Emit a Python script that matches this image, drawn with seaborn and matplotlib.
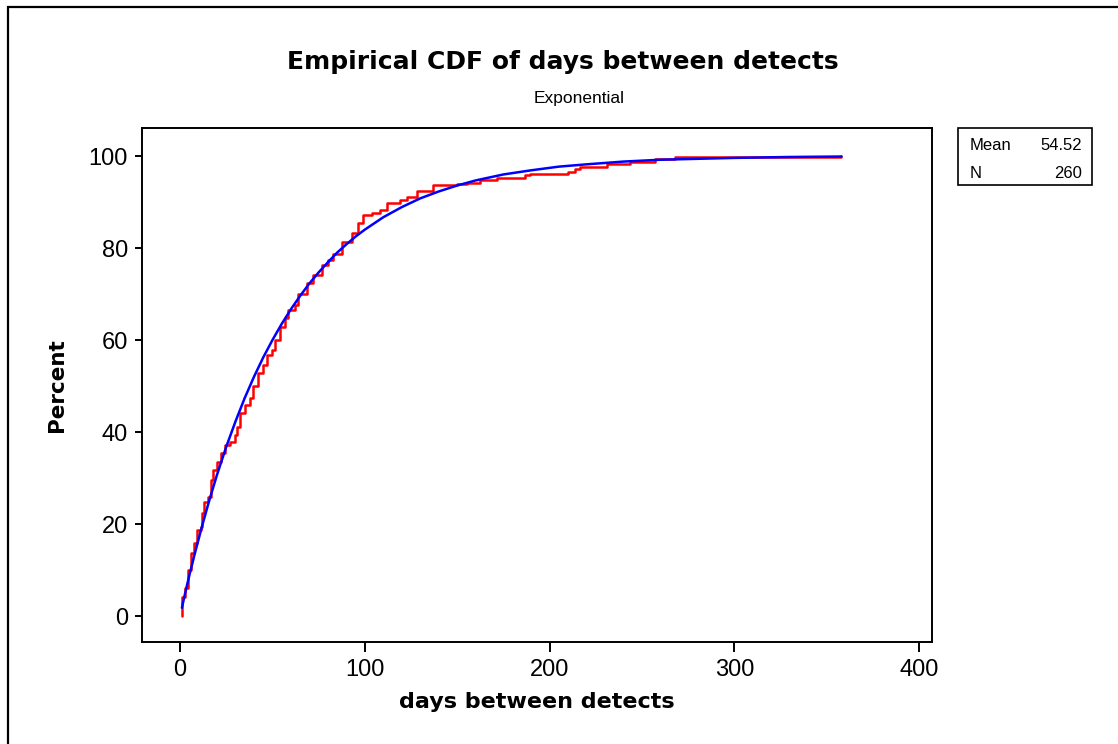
import matplotlib
matplotlib.use("Agg")
import matplotlib.pyplot as plt
from matplotlib.patches import Rectangle
import pandas as pd
import seaborn as sns

# ---- data ----
ecdf_days = [1, 1, 2.7, 4.5, 5.8, 7.6, 9, 11.2, 12.1, 13.2, 15.3, 16.6, 18, 19.8, 22,
             24.4, 27, 29.8, 31, 32.5, 35.2, 37.9, 39.7, 42.4, 45.1, 46.9, 49.6, 51.4,
             54.1, 56.8, 58.6, 62.2, 64, 68.6, 72.2, 76.7, 80, 83, 87.5, 92.9, 96.5,
             99.2, 103.8, 108.3, 111.9, 119.1, 122.7, 128.1, 137.1, 149.8, 155.2, 162.4,
             171.4, 186.7, 189.4, 210.2, 213.8, 216.5, 230.9, 243.6, 257.1, 267.9, 358]
ecdf_pct = [0, 4.2, 6, 10, 13.7, 15.9, 18.7, 19.4, 22.4, 24.8, 25.9, 29.6, 31.7, 33.5, 35.4,
            37.2, 37.9, 39.3, 41.2, 44.1, 45.9, 47.3, 49.9, 52.8, 54.6, 56.7, 57.8, 60,
            62.9, 64.7, 66.5, 67.6, 70.1, 72.3, 74.1, 76.3, 77.3, 78.8, 81.4, 83.2, 85.4,
            87.2, 87.7, 88.3, 89.7, 90.4, 91.2, 92.3, 93.7, 93.9, 94.2, 94.8,
            95.3, 95.9, 96.2, 96.6, 97.1, 97.7, 98.3, 98.8, 99.3, 99.8, 100]

fit_days = [1, 3, 5, 8, 12, 16, 20, 25, 30, 35, 40, 45, 50, 55, 60, 65, 70, 75, 80, 85,
            90, 95, 100, 110, 120, 130, 140, 150, 160, 175, 190, 205, 220, 240, 260,
            280, 300, 330, 358]
fit_pct = [1.8, 5.4, 8.8, 13.6, 19.7, 25.4, 30.7, 36.8, 42.3, 47.4, 52.0, 56.2, 60.0,
           63.5, 66.7, 69.6, 72.3, 74.7, 76.9, 79.0, 80.8, 82.5, 84.0, 86.7, 88.9, 90.8,
           92.3, 93.6, 94.7, 96.0, 96.9, 97.7, 98.2, 98.8, 99.2, 99.4, 99.6, 99.8, 99.9]

x_ticks = [0, 100, 200, 300, 400]
y_ticks = [0, 20, 40, 60, 80, 100]
stat_names = ["Mean", "N"]
stat_values = ["54.52", "260"]

title = "Empirical CDF of days between detects"
subtitle = "Exponential"
x_label = "days between detects"
y_label = "Percent"

# ---- drawing ----
sns.set_theme(style="white")
plt.rcParams["font.family"] = ["Liberation Sans", "DejaVu Sans"]
plt.rcParams["text.color"] = "black"
plt.rcParams["axes.labelcolor"] = "black"
plt.rcParams["xtick.color"] = "black"
plt.rcParams["ytick.color"] = "black"

W, H = 1118, 744
fig = plt.figure(figsize=(W / 100, H / 100), dpi=100, facecolor="white")
ax = fig.add_axes([142 / W, 1 - 642 / H, (932 - 142) / W, (642 - 128) / H])

ecdf_df = pd.DataFrame({"days": ecdf_days, "pct": ecdf_pct})
fit_df = pd.DataFrame({"days": fit_days, "pct": fit_pct})

sns.lineplot(data=ecdf_df, x="days", y="pct", ax=ax, color="#ff0000", linewidth=1.8,
             estimator=None, sort=False, drawstyle="steps-post")
sns.lineplot(data=fit_df, x="days", y="pct", ax=ax, color="#0000ff", linewidth=1.8,
             estimator=None, sort=False)

ax.set_xlim(-20.6, 407)
ax.set_ylim(-5.65, 106.1)
ax.set_xticks(x_ticks)
ax.set_yticks(y_ticks)
ax.set_xticklabels([str(t) for t in x_ticks], fontsize=17)
ax.set_yticklabels([str(t) for t in y_ticks], fontsize=17)
ax.tick_params(axis="x", direction="out", length=7, width=1.4, colors="black", pad=5,
               bottom=True)
ax.tick_params(axis="y", direction="out", length=5, width=1.4, colors="black", pad=5,
               left=True)
for s in ax.spines.values():
    s.set_color("black")
    s.set_linewidth(1.4)
ax.grid(False)

ax.set_xlabel(x_label, fontsize=16, fontweight="bold", family="DejaVu Sans", color="black")
ax.set_ylabel(y_label, fontsize=15.5, fontweight="bold", family="DejaVu Sans", color="black")
ax.xaxis.set_label_coords(0.5, -(692 - 642) / 514)
ax.yaxis.set_label_coords((67 - 142) / 790, 0.5)

fig.text(563 / W, 1 - 69 / H, title, ha="center", va="baseline", fontsize=18,
         fontweight="bold", family="DejaVu Sans", color="black")
fig.text(579 / W, 1 - 103 / H, subtitle, ha="center", va="baseline", fontsize=12.5,
         color="black")

# stats box
fig.patches.append(Rectangle((958 / W, 1 - 185 / H), (1092 - 958) / W, (185 - 128) / H,
                             transform=fig.transFigure, fill=False, edgecolor="black",
                             linewidth=1.2))
for i, (n, v) in enumerate(zip(stat_names, stat_values)):
    yc = 1 - (146 + 27 * i) / H
    fig.text(970 / W, yc, n, ha="left", va="center", fontsize=12, color="black")
    fig.text(1082 / W, yc, v, ha="right", va="center", fontsize=12, color="black")

# outer frame
fig.patches.append(Rectangle((8 / W, -0.1), 1.2, 1.1 - 7 / H, transform=fig.transFigure,
                             fill=False, edgecolor="black", linewidth=1.6))

fig.savefig("out.png", dpi=100, facecolor="white")
